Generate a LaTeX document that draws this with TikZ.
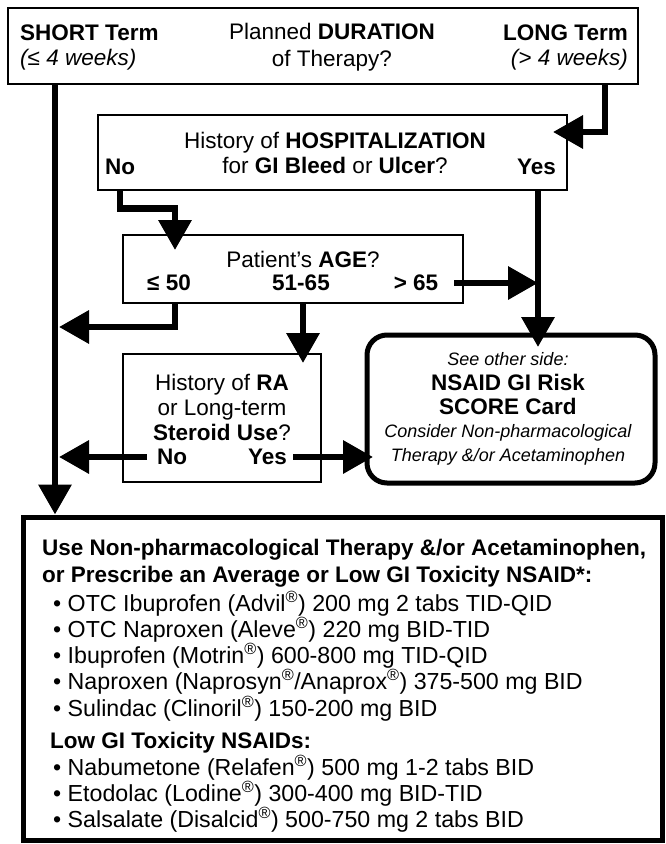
\documentclass[tikz,border=0pt]{standalone}
\usepackage{fontspec}
\setmainfont{Liberation Sans}
\usepackage{tikz}
\usetikzlibrary{arrows.meta, positioning}

\begin{document}
\begin{tikzpicture}[x=1pt,y=1pt,yscale=-1,
	qbox/.style={draw, line width=1.3pt, inner sep=0pt},
	heavybox/.style={draw, line width=5pt, inner sep=0pt},
	flow/.style={line width=6.5pt, -{Triangle[length=30pt,width=32pt]}},
	txt/.style={inner sep=0pt, font=\fontsize{22.5}{25}\selectfont},
	note/.style={inner sep=0pt, font=\fontsize{18}{24}\selectfont\itshape}]
		\useasboundingbox (0,0) rectangle (665,844);

		%Shape: Rectangle (duration)
		\node[qbox, minimum width=630, minimum height=76] (dur) at (323,46) {};
		%Shape: Rectangle (hospitalization)
		\node[qbox, minimum width=469, minimum height=75] (hosp) at (332.5,152.5) {};
		%Shape: Rectangle (age)
		\node[qbox, minimum width=340, minimum height=68] (age) at (293,269) {};
		%Shape: Rectangle (RA / steroid)
		\node[qbox, minimum width=198, minimum height=128] (ra) at (222,418) {};
		%Shape: Rounded Rectangle (score card)
		\node[heavybox, rounded corners=20pt, minimum width=288, minimum height=148] (score) at (511,409) {};
		%Shape: Rectangle (recommendation)
		\node[heavybox, minimum width=639, minimum height=323] (use) at (342.5,678.5) {};

		% Text Node
		\node[txt, anchor=west] (short) at (20,33) {\bfseries SHORT Term};
		% Text Node
		\node[txt, anchor=west] (shortwk) at (20,60) {\itshape (≤ 4 weeks)};
		% Text Node
		\node[txt, align=center, font=\fontsize{22.5}{27}\selectfont] (plan) at (332,47) {Planned \textbf{DURATION}\\of Therapy?};
		% Text Node
		\node[txt, anchor=east] (long) at (628,33) {\bfseries LONG Term};
		% Text Node
		\node[txt, anchor=east] (longwk) at (628,60) {\itshape (> 4 weeks)};

		% Text Node
		\node[txt, align=center] (hospq) at (335,153) {History of \textbf{HOSPITALIZATION}\\for \textbf{GI Bleed} or \textbf{Ulcer}?};
		% Text Node
		\node[txt, anchor=west] (hno) at (105,167) {\bfseries No};
		% Text Node
		\node[txt, anchor=east] (hyes) at (556,167) {\bfseries Yes};

		% Text Node
		\node[txt] (ageq) at (303,259) {Patient's \textbf{AGE}?};
		% Text Node
		\node[txt] (le50) at (169,283) {\bfseries ≤ 50};
		% Text Node
		\node[txt] (a5165) at (301,283) {\bfseries 51-65};
		% Text Node
		\node[txt] (gt65) at (416,283) {\bfseries > 65};

		% Text Node
		\node[txt, align=center] (raq) at (222,407) {History of \textbf{RA}\\or Long-term\\\textbf{Steroid Use}?};
		% Text Node
		\node[txt, anchor=west] (rno) at (157,457) {\bfseries No};
		% Text Node
		\node[txt, anchor=east] (ryes) at (287,457) {\bfseries Yes};

		% Text Node
		\node[note] (see) at (508,359) {See other side:};
		% Text Node
		\node[txt, align=center, font=\fontsize{22.5}{24}\selectfont\bfseries] (card) at (508,394) {NSAID GI Risk\\SCORE Card};
		% Text Node
		\node[note, align=center] (cons) at (508,445) {Consider Non-pharmacological\\Therapy \&/or Acetaminophen};

		% Text Node
		\node[txt, anchor=west, align=left, font=\fontsize{22.5}{26.5}\selectfont\bfseries] (usehd) at (42,563) {Use Non-pharmacological Therapy \&/or Acetaminophen,\\or Prescribe an Average or Low GI Toxicity NSAID*:};
		% Text Node
		\node[txt, anchor=west, align=left, font=\fontsize{23.2}{24.5}\selectfont] (avg) at (53,656) {\textbullet\ OTC Ibuprofen (Advil\textsuperscript{®}) 200 mg 2 tabs TID-QID\\
			\textbullet\ OTC Naproxen (Aleve\textsuperscript{®}) 220 mg BID-TID\\
			\textbullet\ Ibuprofen (Motrin\textsuperscript{®}) 600-800 mg TID-QID\\
			\textbullet\ Naproxen (Naprosyn\textsuperscript{®}/Anaprox\textsuperscript{®}) 375-500 mg BID\\
			\textbullet\ Sulindac (Clinoril\textsuperscript{®}) 150-200 mg BID};
		% Text Node
		\node[txt, anchor=west] (lowhd) at (50,743) {\bfseries Low GI Toxicity NSAIDs:};
		% Text Node
		\node[txt, anchor=west, align=left, font=\fontsize{23.2}{24.5}\selectfont] (low) at (53,794) {\textbullet\ Nabumetone (Relafen\textsuperscript{®}) 500 mg 1-2 tabs BID\\
			\textbullet\ Etodolac (Lodine\textsuperscript{®}) 300-400 mg BID-TID\\
			\textbullet\ Salsalate (Disalcid\textsuperscript{®}) 500-750 mg 2 tabs BID};

		\coordinate (shortx) at (55,0);
		\coordinate (longx) at (605,0);
		\coordinate (tipx) at (59,0);
		\coordinate (hospIn) at (553,132);
		\coordinate (ageIn) at (175,250);
		\coordinate (scoreIn) at (538,347);
		\coordinate (le50out) at (175,304);
		\coordinate (le50tip) at (59,327);
		\coordinate (raIn) at (303,363);
		\coordinate (scx) at (373,0);

		%Straight Lines (short term)
		\draw[flow] (dur.south -| shortx) -- (use.north -| shortx);
		%Straight Lines (long term)
		\draw[flow] (dur.south -| longx) |- (hospIn);
		%Straight Lines (no hospitalization)
		\draw[flow] (hno.south |- hosp.south) -- ++(0,18) -| (ageIn);
		%Straight Lines (hospitalization)
		\draw[flow] (hosp.south -| scoreIn) -- (scoreIn);
		%Straight Lines (over 65)
		\draw[flow] ([xshift=16pt]gt65.east) -- (gt65.east -| scoreIn);
		%Straight Lines (50 or under)
		\draw[flow] (le50out) |- (le50tip);
		%Straight Lines (51-65)
		\draw[flow] (raIn |- age.south) -- (raIn);
		%Straight Lines (no RA)
		\draw[flow] ([xshift=-10pt]rno.west) -- (rno.west -| tipx);
		%Straight Lines (RA)
		\draw[flow] ([xshift=6pt]ryes.east) -- (ryes.east -| scx);

\end{tikzpicture}
\end{document}
